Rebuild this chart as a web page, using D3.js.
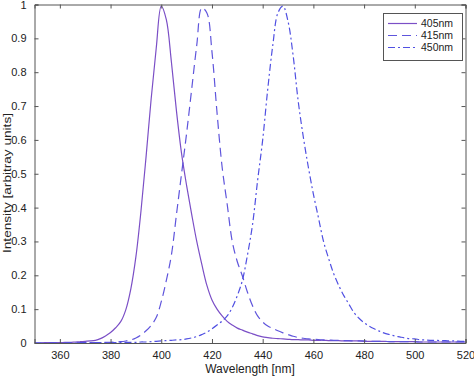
<!DOCTYPE html>
<html><head><meta charset="utf-8">
<script src="https://cdn.jsdelivr.net/npm/d3@7"></script>
<style>body{margin:0;background:#fff}svg{display:block}text{font-family:"Liberation Sans",Arial,sans-serif;fill:#222}</style>
</head><body>
<script>
const wavelengths = d3.range(350, 521, 2);
const series405 = [0.000,0.000,0.001,0.001,0.001,0.001,0.002,0.002,0.003,0.004,0.005,0.006,0.008,0.013,0.021,0.031,0.045,0.063,0.098,0.160,0.255,0.390,0.550,0.720,0.870,0.995,0.955,0.830,0.685,0.560,0.465,0.380,0.300,0.232,0.170,0.127,0.100,0.080,0.064,0.053,0.044,0.038,0.032,0.027,0.022,0.018,0.016,0.014,0.013,0.012,0.011,0.010,0.010,0.009,0.009,0.008,0.008,0.008,0.007,0.007,0.007,0.006,0.006,0.006,0.006,0.005,0.005,0.005,0.005,0.005,0.004,0.004,0.004,0.004,0.004,0.004,0.003,0.003,0.003,0.003,0.003,0.003,0.003,0.003,0.003,0.003];
const series415 = [0.000,0.000,0.000,0.000,0.000,0.000,0.000,0.001,0.001,0.001,0.001,0.001,0.001,0.001,0.002,0.002,0.003,0.004,0.006,0.009,0.015,0.024,0.036,0.052,0.075,0.122,0.185,0.260,0.380,0.500,0.620,0.750,0.880,0.990,0.975,0.860,0.680,0.520,0.410,0.300,0.240,0.198,0.150,0.110,0.080,0.062,0.050,0.043,0.036,0.030,0.025,0.020,0.016,0.014,0.012,0.011,0.010,0.009,0.009,0.008,0.008,0.007,0.007,0.006,0.006,0.006,0.005,0.005,0.005,0.005,0.004,0.004,0.004,0.004,0.004,0.004,0.003,0.003,0.003,0.003,0.003,0.003,0.003,0.003,0.003,0.003];
const series450 = [0.000,0.000,0.000,0.000,0.000,0.000,0.000,0.000,0.000,0.001,0.001,0.001,0.001,0.001,0.001,0.001,0.001,0.002,0.002,0.002,0.002,0.003,0.003,0.004,0.005,0.006,0.007,0.008,0.009,0.010,0.012,0.015,0.019,0.025,0.032,0.042,0.053,0.065,0.080,0.105,0.140,0.185,0.260,0.350,0.480,0.600,0.750,0.880,0.975,0.995,0.950,0.850,0.715,0.610,0.520,0.440,0.370,0.300,0.250,0.205,0.170,0.140,0.115,0.090,0.073,0.060,0.050,0.042,0.035,0.029,0.025,0.021,0.018,0.015,0.013,0.012,0.010,0.009,0.008,0.008,0.007,0.007,0.006,0.006,0.005,0.005];
const seriesNames = ["405nm","415nm","450nm"];
const xTicks = [360,380,400,420,440,460,480,500,520];
const yTicks = [0,0.1,0.2,0.3,0.4,0.5,0.6,0.7,0.8,0.9,1];

const W=474,H=376;
const L=34.5,R=465.5,T=4.5,B=343;
const svg=d3.select("body").append("svg").attr("width",W).attr("height",H);
const x=d3.scaleLinear().domain([350,520]).range([L,R]);
const y=d3.scaleLinear().domain([0,1]).range([B,T]);

const styles=[
 {color:"#7b4fc6",dash:null},
 {color:"#5f55dc",dash:"9,5"},
 {color:"#5050e2",dash:"7,3,2,3"}
];
const all=[series405,series415,series450];

svg.append("defs").append("clipPath").attr("id","clip").append("rect")
 .attr("x",L).attr("y",T).attr("width",R-L).attr("height",B-T);

const line=d3.line().x((d,i)=>x(wavelengths[i])).y(d=>y(Math.max(0,d))).curve(d3.curveCatmullRom.alpha(0.5));
const g=svg.append("g").attr("clip-path","url(#clip)");
all.forEach((s,k)=>{
 g.append("path").datum(s).attr("d",line).attr("fill","none")
  .attr("stroke",styles[k].color).attr("stroke-width",1.2)
  .attr("stroke-dasharray",styles[k].dash);
});

const axColor="#555";
const xb=svg.append("g").attr("transform",`translate(0,${B})`)
 .call(d3.axisBottom(x).tickValues(xTicks).tickSize(-4).tickPadding(8).tickFormat(d3.format("d")));
const xt=svg.append("g").attr("transform",`translate(0,${T})`)
 .call(d3.axisTop(x).tickValues(xTicks).tickSize(-4).tickFormat(""));
const yl=svg.append("g").attr("transform",`translate(${L},0)`)
 .call(d3.axisLeft(y).tickValues(yTicks).tickSize(-4).tickPadding(8).tickFormat(d=>d===0?"0":d===1?"1":d3.format(".1f")(d)));
const yr=svg.append("g").attr("transform",`translate(${R},0)`)
 .call(d3.axisRight(y).tickValues(yTicks).tickSize(-4).tickFormat(""));
[xb,xt,yl,yr].forEach(a=>{
 a.select(".domain").attr("stroke",axColor);
 a.selectAll(".tick line").attr("stroke",axColor);
 a.selectAll("text").style("font-size","11px").attr("fill","#222");
});

svg.append("text").attr("x",250).attr("y",373).attr("text-anchor","middle")
 .style("font-size","12px").text("Wavelength [nm]");
svg.append("text").attr("transform",`translate(10.5,183) rotate(-90)`)
 .attr("text-anchor","middle").style("font-size","11px")
 .attr("textLength",140).attr("lengthAdjust","spacingAndGlyphs")
 .text("Intensity [arbitray units]");

const lg=svg.append("g");
lg.append("rect").attr("x",383.5).attr("y",13.5).attr("width",79).attr("height",47)
 .attr("fill","#fff").attr("stroke",axColor).attr("stroke-width",1);
seriesNames.forEach((n,k)=>{
 const yy=23.5+k*12;
 lg.append("line").attr("x1",388).attr("x2",417).attr("y1",yy).attr("y2",yy)
  .attr("stroke",styles[k].color).attr("stroke-width",1.2).attr("stroke-dasharray",styles[k].dash);
 lg.append("text").attr("x",421).attr("y",yy+3.5).style("font-size","10.5px").text(n);
});
</script>
</body></html>
